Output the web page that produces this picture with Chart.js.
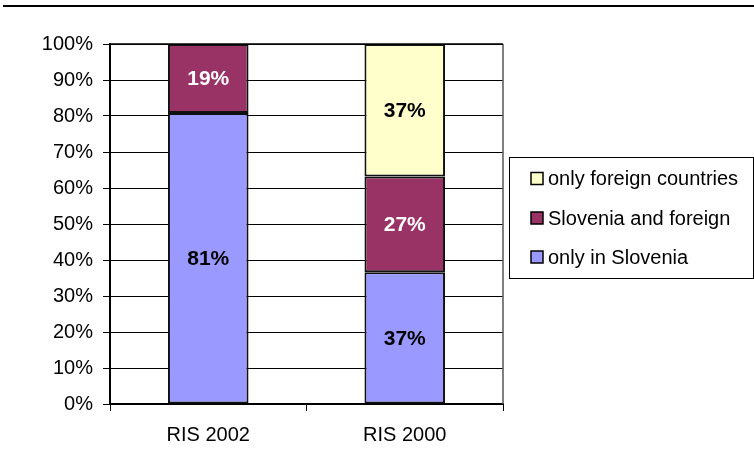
<!DOCTYPE html>
<html>
<head>
<meta charset="utf-8">
<script src="https://cdn.jsdelivr.net/npm/chart.js@4/dist/chart.umd.min.js"></script>
<style>
  html, body { margin: 0; padding: 0; background: #ffffff; }
  #wrap { width: 754px; height: 464px; position: relative; }
</style>
</head>
<body>
<div id="wrap"><canvas id="c" width="754" height="464"></canvas></div>
<script>
// Survey rounds (categories)
const categories = ['RIS 2002', 'RIS 2000'];

// Share of respondents (%), stacked to 100
const onlyInSlovenia = [80.8, 36.6];
const sloveniaAndForeign = [19.2, 26.6];
const onlyForeign = [null, 36.8];

// Series names shown in the legend
const seriesNames = ['only in Slovenia', 'Slovenia and foreign', 'only foreign countries'];

// Y axis tick values
const yTicks = [0, 10, 20, 30, 40, 50, 60, 70, 80, 90, 100];

const FONT = '"Liberation Sans", Arial, sans-serif';

const datasets = [
  { label: seriesNames[0], data: onlyInSlovenia, backgroundColor: '#9999FF', labelColor: '#000000' },
  { label: seriesNames[1], data: sloveniaAndForeign, backgroundColor: '#993366', labelColor: '#FFFFFF' },
  { label: seriesNames[2], data: onlyForeign, backgroundColor: '#FFFFCC', labelColor: '#000000' }
].map(d => Object.assign(d, {
  borderColor: '#111111',
  borderWidth: 2,
  borderSkipped: false,
  categoryPercentage: 1,
  barPercentage: 0.41
}));

// Page rule, plot-area frame, value labels and legend box
const decorations = {
  id: 'decorations',
  beforeDraw(chart) {
    const ctx = chart.ctx;
    ctx.save();
    ctx.fillStyle = '#ffffff';
    ctx.fillRect(0, 0, chart.width, chart.height);
    ctx.fillStyle = '#000000';
    ctx.fillRect(3, 5, chart.width - 3, 2);
    ctx.restore();
  },
  afterDatasetsDraw(chart) {
    const ctx = chart.ctx;
    const area = chart.chartArea;
    ctx.save();
    // right edge of plot frame
    ctx.strokeStyle = '#555555';
    ctx.lineWidth = 1.5;
    ctx.beginPath();
    ctx.moveTo(area.right, area.top);
    ctx.lineTo(area.right, area.bottom);
    ctx.stroke();
    ctx.strokeStyle = '#000000';
    ctx.lineWidth = 1.5;
    ctx.beginPath();
    ctx.moveTo(area.left, area.top);
    ctx.lineTo(area.right, area.top);
    ctx.stroke();

    // value labels centered in each segment
    ctx.font = 'bold 21px ' + FONT;
    ctx.textAlign = 'center';
    ctx.textBaseline = 'middle';
    chart.data.datasets.forEach((ds, i) => {
      const meta = chart.getDatasetMeta(i);
      meta.data.forEach((bar, j) => {
        const v = ds.data[j];
        if (v === null || v === undefined || v === 0) return;
        const mid = (bar.y + bar.base) / 2;
        ctx.fillStyle = ds.labelColor;
        ctx.fillText(Math.round(v) + '%', bar.x, mid + 1);
      });
    });

    // legend box
    const bx = 509.5, by = 157.5, bw = 244, bh = 121;
    ctx.strokeStyle = '#000000';
    ctx.lineWidth = 1;
    ctx.strokeRect(bx, by, bw, bh);
    ctx.font = '20px ' + FONT;
    ctx.textAlign = 'left';
    ctx.textBaseline = 'middle';
    const rows = [178.5, 218, 257];
    const order = [2, 1, 0];
    order.forEach((di, r) => {
      const ds = chart.data.datasets[di];
      const y = rows[r];
      ctx.fillStyle = ds.backgroundColor;
      ctx.fillRect(531, y - 6, 12, 12);
      ctx.strokeStyle = '#000000';
      ctx.lineWidth = 1.5;
      ctx.strokeRect(531, y - 6, 12, 12);
      ctx.fillStyle = '#000000';
      ctx.fillText(ds.label, 548, y + 1);
    });
    ctx.restore();
  }
};

new Chart(document.getElementById('c'), {
  type: 'bar',
  data: { labels: categories, datasets: datasets },
  options: {
    responsive: false,
    animation: false,
    devicePixelRatio: 1,
    layout: { padding: { top: 44, right: 251, bottom: 0, left: 0 } },
    plugins: {
      legend: { display: false },
      tooltip: { enabled: false }
    },
    scales: {
      x: {
        stacked: true,
        offset: true,
        afterFit(scale) { scale.height = 60; },
        grid: {
          drawOnChartArea: false,
          drawTicks: true,
          tickLength: 7,
          color: '#000000',
          offset: true
        },
        border: { color: '#000000', width: 2 },
        ticks: {
          color: '#000000',
          font: { family: FONT, size: 20 },
          padding: 12
        }
      },
      y: {
        stacked: true,
        min: 0,
        max: 100,
        afterFit(scale) { scale.width = 110; },
        afterBuildTicks(scale) { scale.ticks = yTicks.map(v => ({ value: v })); },
        grid: {
          color: '#000000',
          lineWidth: 1,
          tickLength: 7
        },
        border: { color: '#000000', width: 2 },
        ticks: {
          color: '#000000',
          font: { family: FONT, size: 20 },
          padding: 10,
          callback: v => v + '%'
        }
      }
    }
  },
  plugins: [decorations]
});
</script>
</body>
</html>
